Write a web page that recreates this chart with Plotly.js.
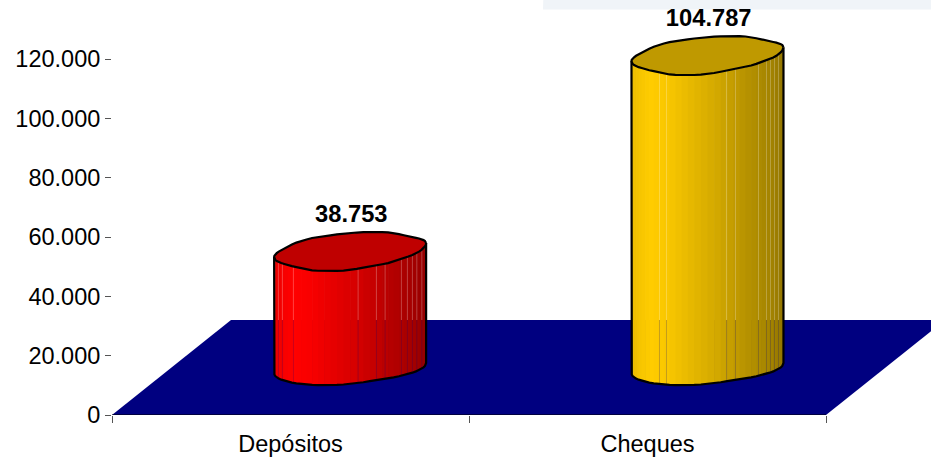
<!DOCTYPE html>
<html>
<head>
<meta charset="utf-8">
<script src="https://cdn.plot.ly/plotly-3.0.1.min.js"></script>
<style>html,body{margin:0;padding:0;background:#fff;overflow:hidden}</style>
</head>
<body>
<div id="chart" style="width:931px;height:458px"></div>
<script>
const categories = ['Depósitos', 'Cheques'];
const values = [38753, 104787];
const valueLabels = ['38.753', '104.787'];
const yTickVals = [0, 20000, 40000, 60000, 80000, 100000, 120000];
const yTickText = ['0', '20.000', '40.000', '60.000', '80.000', '100.000', '120.000'];
const bodyColors = [[255, 0, 0], [255, 204, 0]];
const centers = [0.667, 1.668];
const shadeStops = [[-1, 0.92], [-0.9, 0.96], [-0.75, 1], [-0.55, 0.98], [-0.2, 0.9], [0.1, 0.83], [0.5, 0.72], [0.8, 0.65], [1, 0.58]];
const seamPx = [
  [-75.3, -71.7, -67.7, -56.7, 8, 26.3, 35, 51.3, 57.3, 62.3, 66.7, 71.7],
  [-48, -41, 19, 28, 51, 59, 63, 67, 71]
];
const topWobblePx = [-1.5, 0, 1.5, 1.5, 0.2, 0, 0, 0, -0.7, -0.3, 1, 0.5, -0.5, -1, -1.7, -1.3, 0.5, 1, 1, -0.5, -0.3, -1.2, -1, -1.3];
const bottomWobblePx = [3.5, 0, 0, 0, 0, 0, 0, 0, 0, 0, 0, 0, 0.5, 0.5, 0, 0, 0, 0, 0, -0.5, 0, 1, 2, 3];

const pxX = 1 / 357;
const pxY = 120000 / 356;
const baseLift = 49 * pxY;
const halfW = 76 * pxX;
const tiltY = 6.5 * pxY;
const halfH = 18 * pxY;
const floorDepthX = 119 * pxX;
const floorDepthY = 95 * pxY;
const labelGap = 28200;
const xMax = 2 + 105 * pxX;
const yMax = 415 * pxY;

function wob(t, arr) {
  const n = arr.length, f = (((t % 360) + 360) % 360) / 15, i = Math.floor(f) % n, j = (i + 1) % n, r = f - Math.floor(f);
  return (arr[i] * (1 - r) + arr[j] * r) * pxY;
}
function ring(cx, cy, t, arr) {
  const a = t * Math.PI / 180;
  return [cx + halfW * Math.cos(a), cy + tiltY * Math.cos(a) + halfH * Math.sin(a) - wob(t, arr)];
}
function shade(u) {
  for (let i = 1; i < shadeStops.length; i++) {
    if (u <= shadeStops[i][0]) {
      const p = shadeStops[i - 1], q = shadeStops[i], r = (u - p[0]) / (q[0] - p[0]);
      return p[1] + (q[1] - p[1]) * r;
    }
  }
  return shadeStops[shadeStops.length - 1][1];
}
function rgb(c, f) { return 'rgb(' + c.map(v => Math.round(v * f)).join(',') + ')'; }
const quiet = { showlegend: false, hoverinfo: 'skip', type: 'scatter' };

const traces = [];
traces.push(Object.assign({}, quiet, {
  x: [0, floorDepthX, 2 + floorDepthX, 2, 0], y: [0, floorDepthY, floorDepthY, 0, 0],
  mode: 'lines', fill: 'toself', fillcolor: '#000080', line: { width: 0 }
}));
traces.push(Object.assign({}, quiet, {
  x: [0, 2], y: [0, 0], mode: 'lines', line: { color: '#000', width: 1 }, cliponaxis: false
}));
traces.push(Object.assign({}, quiet, {
  x: [-1.2 * pxX, -1.2 * pxX], y: [0, 120000], mode: 'lines', line: { color: '#777', width: 1 }, cliponaxis: false
}));

values.forEach((v, k) => {
  const cx = centers[k], bottom = baseLift, top = baseLift + v, col = bodyColors[k];
  const step = 5;
  for (let t = 180; t < 360; t += step) {
    const a = ring(cx, top, t, topWobblePx), b = ring(cx, top, t + step, topWobblePx), c = ring(cx, bottom, t + step, bottomWobblePx), d = ring(cx, bottom, t, bottomWobblePx);
    const extra = t + step < 360 ? 0.7 * pxX : 0;
    const mid = Math.cos((t + step / 2) * Math.PI / 180);
    traces.push(Object.assign({}, quiet, {
      x: [a[0], b[0] + extra, c[0] + extra, d[0], a[0]], y: [a[1], b[1], c[1], d[1], a[1]],
      mode: 'lines', fill: 'toself', fillcolor: rgb(col, shade(mid)), line: { width: 0 }
    }));
  }
  const upX = [], upY = [], dnX = [], dnY = [];
  seamPx[k].forEach(p => {
    const x = cx + p * pxX, t = 360 - Math.acos(p / 76) * 180 / Math.PI;
    const yTop = ring(cx, top, t, topWobblePx)[1], yBot = ring(cx, bottom, t, bottomWobblePx)[1];
    upX.push(x, x, null); upY.push(yTop, floorDepthY, null);
    dnX.push(x, x, null); dnY.push(floorDepthY, yBot, null);
  });
  traces.push(Object.assign({}, quiet, { x: upX, y: upY, mode: 'lines', line: { color: 'rgba(255,255,255,0.25)', width: 1 } }));
  traces.push(Object.assign({}, quiet, { x: dnX, y: dnY, mode: 'lines', line: { color: 'rgba(0,0,128,0.22)', width: 1 } }));
  const ox = [], oy = [];
  for (let t = 180; t <= 360; t += 5) { const p = ring(cx, bottom, t, bottomWobblePx); ox.push(p[0]); oy.push(p[1]); }
  const l = ring(cx, top, 180, topWobblePx), r = ring(cx, top, 360, topWobblePx);
  traces.push(Object.assign({}, quiet, {
    x: [l[0]].concat(ox, [r[0]]), y: [l[1]].concat(oy, [r[1]]),
    mode: 'lines', line: { color: '#000', width: 2.2 }
  }));
  const ex = [], ey = [];
  for (let t = 0; t <= 360; t += 5) { const p = ring(cx, top, t, topWobblePx); ex.push(p[0]); ey.push(p[1]); }
  traces.push(Object.assign({}, quiet, {
    x: ex, y: ey, mode: 'lines', fill: 'toself', fillcolor: rgb(col, 0.75), line: { color: '#000', width: 2.2 }
  }));
  traces.push(Object.assign({}, quiet, {
    x: [cx + 1.2 * pxX], y: [v + labelGap], mode: 'text', text: [valueLabels[k]], textposition: 'middle center',
    textfont: { family: 'Liberation Sans, Arial, sans-serif', size: 23.7, color: '#000', weight: 700 }, cliponaxis: false
  }));
});

const font = { family: 'Liberation Sans, Arial, sans-serif', size: 23.5, color: '#000' };
const pw = 931 - 112;
const layout = {
  width: 931, height: 458, autosize: false,
  margin: { l: 112, r: 0, t: 0, b: 43, pad: 0 },
  paper_bgcolor: '#fff', plot_bgcolor: 'rgba(0,0,0,0)',
  font: font, showlegend: false,
  xaxis: {
    range: [0, xMax], fixedrange: true, showgrid: false, zeroline: false, showline: false,
    tickmode: 'array', tickvals: [0.5, 1.5], ticktext: categories, ticks: '', ticklabelstandoff: 12, tickfont: font,
    minor: { tickmode: 'array', tickvals: [0, 1, 2], ticks: 'outside', ticklen: 7, tickcolor: '#555', tickwidth: 1, showgrid: false }
  },
  yaxis: {
    range: [0, yMax], fixedrange: true, showgrid: false, zeroline: false, showline: false,
    tickmode: 'array', tickvals: yTickVals, ticktext: yTickText, ticks: 'outside', ticklen: 6, tickcolor: '#555', tickwidth: 1, tickfont: font
  },
  shapes: [{
    type: 'path', xref: 'paper', yref: 'paper', layer: 'below', line: { width: 0 }, fillcolor: '#f0f4f8',
    path: 'M ' + ((543 - 112) / pw) + ' ' + (1 - 9.5 / 415) + ' L ' + ((546 - 112) / pw) + ' 1.2 L 1 1.2 L 1 ' + (1 - 9.5 / 415) + ' Z'
  }]
};
Plotly.newPlot('chart', traces, layout, { displayModeBar: false, staticPlot: true });
</script>
</body>
</html>
